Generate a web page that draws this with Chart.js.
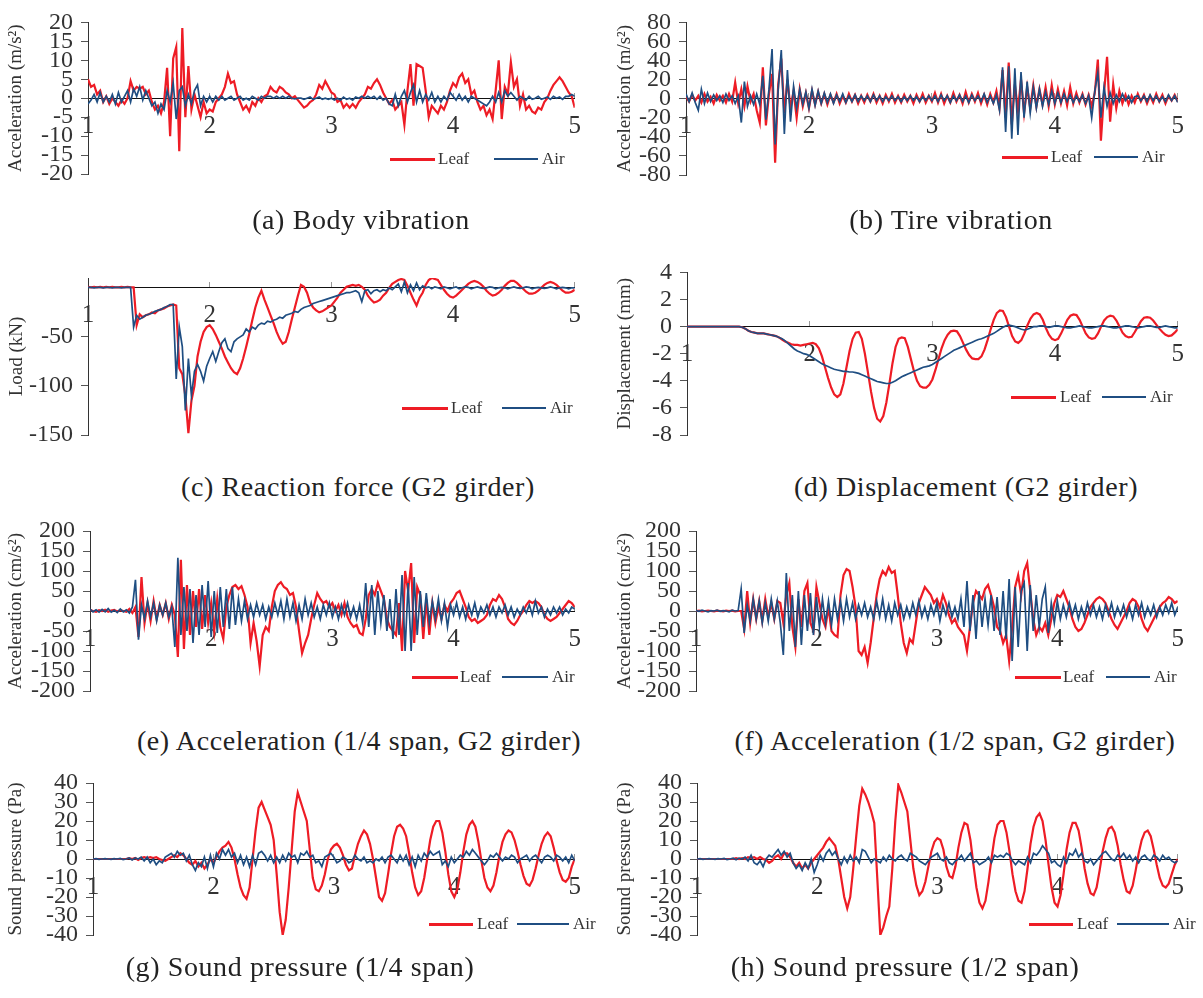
<!DOCTYPE html>
<html>
<head>
<meta charset="utf-8">
<script src="https://cdn.jsdelivr.net/npm/chart.js@4.4.1/dist/chart.umd.min.js"></script>
<style>
html,body{margin:0;padding:0;background:#fff;}
body{width:1203px;height:998px;position:relative;overflow:hidden;font-family:"Liberation Serif","Times New Roman",serif;}
.cap{position:absolute;font-size:28px;letter-spacing:0.6px;color:#222;white-space:nowrap;transform:translateX(-50%);line-height:30px;}
.legt{position:absolute;font-size:17px;color:#333;white-space:nowrap;line-height:18px;}
.legl{position:absolute;height:3px;}
</style>
</head>
<body>
<script>
// ---- sampling of the records (time axis, s) ----
const T_START = 1;
const T_STEP = 0.025;
const X_TICKS = [1, 2, 3, 4, 5];

// (a) Body vibration (m/s2)
const bodyLeaf = [
5,3,3.5,1,2,-1,0.5,-1.5,0,-1,-2,-0.5,-1.5,0,4.5,2,3,2.5,3,1,
2,-1,-3,-2,-4,-1,8,-10,10.5,13.5,-14,18.5,-5,8.5,-3,1,-2,-5,-1,-4,
-3,-3.5,-1,0,1,3,6.5,4,4.5,1,-1,-3,-2,-3.5,-1,-2,0,-1,0.5,1,
3,2,1.5,3,2.5,1.5,1,0,0.5,-0.5,-1.5,-2.5,-2,-1,-0.5,1,3.5,2.5,4.5,3,
1.5,1,-1,-0.5,-2.5,-1.5,-2.5,-1.5,-2.5,-1,0,1,3,2.5,4,5,3.5,1.5,0,-1.5,
-0.5,-3,-2,-1,-7,2,9,-2,9,8.5,8,2,-5,-2,-3,-4,-2,-3,-1,2,
4,3,5.5,6.5,4,5,1,2,-1,-3,-2,-4.5,-3,-5.5,2,10,-5.5,3,1,9.5,
3,5,-2,1,-3,-2,-3.5,-4,-2.5,-3,-1,0,2,3.5,4.5,5.5,4.5,3,1.5,0.5,
-2.5];
const bodyAir = [
-1.5,-0.5,1,-1,1.5,-1,0.5,-1,1,-1.5,1.5,-1,0.5,2,-1,2.5,0.5,3,-0.5,2,
0,-2,-1,-4,-1.5,-3,2,-1,4,-5.5,2,3,-2,1,-1.5,2,3.5,-2,0.5,-1,
0.5,-1,0.5,-0.5,0.5,-0.5,0,0.5,-0.5,0,0.5,-0.5,0,-0.5,0.5,0,-0.5,0.5,0,0.5,
0.5,0,0.5,0,0.5,0,0.5,0,-0.2,0,0,-0.3,0,0.3,-0.3,0,0.3,-0.3,0,-0.3,
0,-0.5,0,-0.5,0.3,-0.3,0,-0.5,0.3,0,0.5,0,0.5,0,0.5,-0.3,0.5,-0.5,0,-1.5,
-2,1,-2,0.5,2,-1,1.5,3.5,-1,2,-1,1,-0.5,1.5,-1,0.5,-1,0.5,-0.5,1.5,
0.5,-0.5,1,-0.5,0.5,-1,0.5,0,-0.5,-1,-1.5,-2,-1,0.5,-1,1.5,-1,2,0.5,1.5,
0.5,-0.5,0.5,0,-0.5,0.5,-0.3,0,0.5,-0.3,0,0.3,-0.3,0.5,0,0.3,-0.3,0.5,0.5,1,
0.5];

// (b) Tire vibration (m/s2)
const tireLeaf = [
2,-3,4,-2,3,-4,5,-3,2,-5,4,-2,3,-4,5,-3,17,-5,10,-8,
13,-3,5,-12,-25,33,-28,5,26,-67,15,42,-15,20,-10,8,-20,10,-8,6,
-10,8,-6,7,-5,5,-6,4,-4,5,-5,3,-4,5,-3,4,-5,3,-4,4,
-3,5,-4,3,-5,4,-3,5,-4,3,-4,4,-3,3,-5,4,-3,5,-4,3,
-3,6,-4,5,-5,3,-4,6,-3,4,-5,7,-4,5,-3,6,-5,4,-6,5,
-4,8,-10,30,-20,38,-27,15,-12,20,-15,12,-10,14,-8,10,-6,12,-8,14,
-6,10,-5,8,-7,12,-5,6,-4,5,-6,4,-8,6,41,-44,5,44,-24,15,
-10,8,-5,4,-6,3,-4,5,-3,4,-5,3,-4,5,-3,4,-5,3,-2,4,
-3];
const tireAir = [
5,-3,6,-4,-12,10,-5,6,-3,4,-2,3,-4,5,-2,3,-5,3,-25,18,
-8,3,-6,5,-6,24,-22,10,52,-48,10,51,-37,30,-24,13,-10,10,-6,7,
-10,10,-7,8,-5,6,-4,5,-5,4,-3,5,-4,3,-3,4,-3,3,-2,3,
-3,4,-2,3,-3,2,-2,3,-2,2,-3,2,-2,3,-2,2,-3,2,-2,3,
-2,3,-3,4,-2,3,-4,3,-2,4,-3,3,-4,4,-2,3,-3,5,-4,3,
-5,4,-12,33,-35,34,-42,32,-38,28,-20,18,-15,12,-10,10,-8,7,-6,8,
-5,6,-4,5,-3,4,-4,3,-3,4,-5,3,-20,8,27,-20,12,-8,6,-5,
4,-3,5,-2,3,-4,2,3,-2,3,-3,4,-2,3,-3,2,-3,4,-2,3,
-4];

// (c) Reaction force, G2 girder (kN)
const reactLeaf = [
1,0.5,1,0.5,1,0.5,1,0.5,1,0.5,0.5,1,0.5,1,0.5,0.5,-38,-27,-30,-28,
-27,-25,-26,-23,-22,-21,-19,-18,-17,-18,-82,-88,-110,-148,-115,-100,-70,-55,-45,-40,
-38,-42,-48,-55,-62,-70,-76,-82,-86,-88,-82,-72,-60,-47,-33,-20,-10,-3,-12,-20,
-28,-36,-45,-52,-57,-55,-45,-32,-20,-8,3,1,-5,-15,-20,-23,-25,-24,-22,-20,
-18,-14,-10,-5,-2,1,2,3,2,3,1,-2,-8,-12,-15,-14,-12,-8,-5,0,
4,6,8,9,8,2,-5,-12,-18,-10,-5,3,8,10,9,8,3,-2,-6,-9,
-10,-8,-5,-2,1,4,6,7,6,4,1,-3,-6,-8,-7,-5,-2,2,5,7,
7,5,2,-1,-4,-6,-6,-5,-3,0,3,5,6,5,3,0,-3,-5,-5,-4,
-2];
const reactAir = [
0.5,0.5,0,0.5,0.5,0,0.5,0.5,0,0.5,0.5,0,0.5,0.5,0.5,-40,-28,-32,-30,-28,
-27,-26,-24,-23,-22,-20,-19,-17,-17,-93,-40,-60,-125,-72,-110,-85,-78,-85,-95,-80,
-72,-65,-75,-65,-56,-52,-62,-65,-55,-52,-50,-48,-42,-45,-40,-42,-38,-36,-37,-34,
-35,-33,-32,-30,-31,-28,-27,-26,-24,-25,-22,-20,-19,-18,-16,-15,-14,-13,-12,-11,
-10,-9,-8,-7,-6,-5,-5,-4,-3,-5,-14,-3,-2,-6,-3,-2,-4,-2,-3,0,
-2,1,4,-4,6,-5,3,-3,5,-2,2,0,1,-1,1,0,-1,1,0,-1,
0,1,-1,0,1,0.5,-1,0,1,0,-0.5,0,1,0.5,-1,0,0.5,0,-1,0,
1,0,-0.5,0,1,0.5,-1,0,0.5,0,-0.5,0,1,0,-1,0,0.5,0,-1,0,
0];

// (d) Displacement, G2 girder (mm)
const dispLeaf = [
0,0,0,0,0,0,0,0,0,0,0,0,0,0,0,0,0,0,-0.05,-0.15,
-0.3,-0.4,-0.45,-0.5,-0.5,-0.5,-0.55,-0.6,-0.65,-0.7,-0.8,-0.95,-1.1,-1.2,-1.3,-1.35,-1.35,-1.4,-1.35,-1.3,
-1.25,-1.2,-1.3,-1.6,-2.2,-3,-3.8,-4.5,-5,-5.2,-5,-4.2,-3,-1.8,-0.9,-0.45,-0.4,-0.9,-2,-3.4,
-4.8,-6,-6.8,-7,-6.6,-5.6,-4.2,-2.7,-1.5,-0.9,-0.8,-0.85,-1.5,-2.4,-3.3,-4,-4.4,-4.5,-4.5,-4.3,
-3.9,-3.2,-2.4,-1.6,-1,-0.6,-0.35,-0.3,-0.35,-0.7,-1.2,-1.7,-2.1,-2.35,-2.4,-2.4,-2.2,-1.7,-1,-0.2,
0.5,1,1.2,1.15,0.7,0,-0.7,-1.1,-1.2,-1,-0.5,0.1,0.6,0.9,1,0.9,0.5,-0.1,-0.6,-0.9,
-1,-0.9,-0.5,0,0.5,0.8,0.9,0.85,0.5,0,-0.5,-0.8,-0.9,-0.85,-0.5,0,0.45,0.7,0.8,0.75,
0.45,0,-0.45,-0.7,-0.8,-0.75,-0.4,0,0.4,0.65,0.7,0.65,0.45,0.15,-0.15,-0.4,-0.6,-0.7,-0.65,-0.45,
-0.2];
const dispAir = [
0,0,0,0,0,0,0,0,0,0,0,0,0,0,0,0,0,0,-0.05,-0.15,
-0.3,-0.4,-0.45,-0.5,-0.5,-0.5,-0.55,-0.6,-0.65,-0.7,-0.8,-0.9,-1.05,-1.25,-1.45,-1.65,-1.8,-1.9,-2,-2.05,
-2.15,-2.3,-2.45,-2.6,-2.75,-2.85,-2.95,-3.05,-3.15,-3.2,-3.25,-3.3,-3.3,-3.35,-3.35,-3.4,-3.45,-3.55,-3.65,-3.75,
-3.85,-3.95,-4.05,-4.1,-4.15,-4.2,-4.2,-4.1,-4,-3.85,-3.7,-3.6,-3.5,-3.4,-3.3,-3.2,-3.1,-3,-2.95,-2.9,
-2.8,-2.65,-2.5,-2.35,-2.2,-2.05,-1.9,-1.75,-1.65,-1.55,-1.45,-1.35,-1.25,-1.15,-1.05,-0.95,-0.9,-0.8,-0.7,-0.6,
-0.5,-0.35,-0.2,-0.05,0.05,0.1,0.05,0,-0.1,-0.2,-0.25,-0.2,-0.1,0,0,0.05,0.05,0,-0.05,0,
0.05,0.05,0,-0.05,-0.1,-0.1,-0.05,0,0.05,0,-0.05,-0.1,-0.1,-0.05,0,0.05,0.05,0,-0.05,-0.1,
-0.1,-0.05,0,0.05,0.05,0,-0.05,-0.1,-0.05,0,0.05,0.05,0,-0.05,-0.05,0,0.05,0,-0.05,-0.1,
-0.1];

// (e) Acceleration, 1/4 span, G2 girder (cm/s2)
const accQLeaf = [
3,0,-2,2,0,3,-2,1,3,-1,2,0,-2,5,-5,10,-65,85,-30,20,
-25,25,-20,15,-10,20,-20,15,-10,-115,128,-95,65,-60,50,-40,55,-45,40,-30,
20,-50,30,-40,-70,10,40,60,65,55,62,40,10,-80,-30,-75,-138,-60,-40,-50,
10,50,65,72,60,55,40,45,10,-50,-105,-80,-60,-20,15,45,30,20,25,10,
20,0,15,-10,20,-15,-30,-40,-35,-55,-60,-20,40,55,40,70,50,30,-20,-40,
-50,-60,20,-100,100,50,120,-80,60,40,-70,30,-60,20,-30,10,-20,15,0,20,
30,45,50,30,10,-15,-25,-20,-30,-25,-20,-10,15,30,25,40,30,10,-20,-30,
-35,-25,-10,0,15,25,20,25,20,10,-10,-20,-25,-20,-15,-5,5,15,25,20,
10];
const accQAir = [
5,-2,3,-3,4,-2,6,-3,2,-4,5,-2,3,-5,10,78,-72,15,-20,25,
-15,20,-25,15,-10,20,-15,10,-90,133,-60,60,-50,55,-80,40,-60,65,-40,75,
-65,50,-55,60,-40,55,-45,60,-35,30,-25,25,-20,15,-15,20,-10,15,-20,10,
-15,20,-10,25,-20,30,-15,20,-25,15,-20,30,-10,20,-15,10,-20,15,-10,20,
-15,10,-20,15,-10,20,-15,10,-20,15,-30,70,-40,65,-60,50,-30,40,-50,30,
-70,55,-60,90,-100,70,-100,85,-60,50,-40,45,-30,25,-20,30,-25,20,-40,15,
-10,20,-15,10,-20,15,-10,20,-15,10,-5,15,-10,10,-15,10,-5,15,-10,10,
-15,5,-10,10,-5,15,-10,25,-5,10,-15,5,-10,10,-5,10,-10,5,-5,10,
5];

// (f) Acceleration, 1/2 span, G2 girder (cm/s2)
const accHLeaf = [
0,1,-1,0,1,0,-1,1,0,-1,1,0,1,-1,0,0,-45,50,-30,30,
-20,25,-25,30,-15,20,-20,25,20,-30,40,70,-40,-90,30,-40,50,70,-30,-50,
60,20,-20,-40,10,-50,-60,-65,40,90,105,100,60,10,-100,-110,-90,-130,-80,-20,
40,80,100,90,110,95,100,40,-30,-80,-105,-70,-80,-30,20,40,60,50,40,20,
30,10,40,20,-10,-30,-20,-40,-50,-60,-100,-40,20,50,40,30,55,65,40,10,
-40,-50,-80,-60,-125,-40,60,90,40,100,120,50,-20,-60,-40,-50,-30,-60,-20,20,
40,35,50,30,10,-20,-40,-50,-45,-30,-10,10,20,30,35,30,20,0,-20,-35,
-45,-30,-15,0,20,30,25,10,-20,-40,-50,-35,-20,-5,10,20,25,35,30,20,
25];
const accHAir = [
1,-1,2,0,-2,1,0,2,-1,1,0,-2,2,0,1,55,-55,15,-25,30,
-20,25,-30,20,-25,30,-20,25,-30,-110,95,-50,40,-90,50,-85,40,-50,45,-60,
35,-40,30,-30,25,-35,30,-20,25,-25,30,-15,20,-20,15,-10,20,-15,10,-20,
25,-15,30,-20,15,-25,20,-10,15,-20,10,-15,20,-10,25,-15,10,-20,15,-10,
20,-25,15,-10,20,-15,10,-20,30,-40,75,-50,40,-70,50,-40,30,-35,40,-50,
35,-60,50,-70,80,-125,60,-90,50,70,-100,65,-50,40,-40,30,60,-55,20,-30,
25,-20,15,-15,20,-10,15,-20,10,-15,20,-10,15,-15,10,-20,15,-10,20,-15,
10,-10,15,-15,10,-20,15,-10,20,-15,10,-10,15,-15,10,-10,15,-5,20,-10,
10];

// (g) Sound pressure, 1/4 span (Pa)
const sndQLeaf = [
0,0,0,0,0,0,0,0,0,0,0,0,0.5,0,0.5,-0.5,0.5,1,0.5,1,
0.5,1,0,-0.5,-1,0,1,2,1,3,2,0,-2,-3,-1,-4,-2,-5,-3,0,
-2,1,4,6,7,9,6,0,-8,-15,-19,-21,-15,0,15,27,30,26,22,18,
10,-8,-28,-40,-32,-15,5,25,35,30,25,20,5,-10,-16,-17,-14,-8,0,5,
7,8,6,2,-3,-6,-5,2,8,12,15,13,8,0,-10,-20,-22,-18,-8,3,
12,17,18,16,12,3,-7,-15,-19,-17,-10,0,10,17,20,20,14,4,-8,-17,
-20,-16,-7,4,13,18,20,17,9,-1,-10,-15,-17,-14,-7,2,9,13,15,14,
10,4,-3,-9,-13,-14,-11,-5,2,8,12,14,12,6,-1,-7,-11,-12,-10,-4,
0];
const sndQAir = [
0,0.2,-0.2,0,0.2,0,-0.2,0.2,0,0.3,-0.3,0,0.5,-0.5,0.5,0,1,-1,1,-2,
0,-3,-1,-2,1,2,3,1,4,2,3,-1,2,-3,-6,-2,-4,1,-5,2,
-4,3,0,5,2,5,1,3,-2,2,-3,1,-4,2,-3,3,4,2,-1,2,
-2,1,-2,2,-1,3,1,2,-2,3,2,4,1,2,-2,-1,-4,1,2,3,
1,-2,-1,1,0,-2,-1,2,0,-1,1,-2,-1,-2,0,-1,1,-2,1,2,
0,-2,2,-1,2,-3,1,-4,2,-1,3,1,4,2,3,4,-3,-1,-4,1,
-2,0,2,1,4,2,5,3,1,-1,-3,-1,2,1,3,1,-1,1,0,2,
1,-2,0,1,2,-1,1,2,0,-2,1,2,1,-1,2,1,-1,1,-2,2,
-1];

// (h) Sound pressure, 1/2 span (Pa)
const sndHLeaf = [
0,0,0,0,0,0,0,0,0,0,0,0,0,0.5,0,0.5,0,1,0.5,1,
0,1,0,-0.5,-2,-1,1,2,0,3,3,1,-2,-4,-2,-5,-3,-5,-2,0,
2,4,6,9,11,9,7,0,-10,-20,-26,-20,-5,12,28,37,34,30,25,19,
-10,-40,-36,-30,-25,-5,20,39,35,30,25,10,-5,-14,-19,-17,-12,-4,4,9,
11,10,5,-4,-9,-10,-4,6,14,19,18,10,-3,-15,-23,-26,-22,-12,0,11,
18,20,20,14,4,-8,-17,-22,-23,-17,-5,8,17,22,24,20,10,-3,-15,-23,
-25,-19,-8,5,14,19,19,15,6,-5,-13,-18,-19,-15,-6,4,11,16,17,14,
7,-3,-11,-17,-18,-14,-6,3,10,14,15,12,5,-3,-10,-14,-15,-13,-8,-3,
0];
const sndHAir = [
0,0.2,-0.2,0,0.2,0,-0.2,0.2,0,0.3,-0.3,0,0.4,-0.4,0.5,0,1,-1,2,-2,
-3,-1,-4,0,2,1,3,5,2,4,1,3,-2,-5,-3,-6,-2,-5,0,-7,
-3,2,-1,3,5,2,4,0,-3,1,-2,2,-1,1,-2,5,4,1,-2,0,
-1,-2,1,-1,2,0,-1,1,2,0,-1,3,2,1,-1,-2,-3,-1,1,2,
3,0,-1,1,-2,-3,-1,0,2,-1,1,3,-2,-1,-3,-2,-1,1,-2,2,
1,2,1,3,2,-1,-3,-1,-2,-3,1,-2,3,2,4,7,5,3,-2,-1,
-3,-4,1,-2,3,2,5,1,3,-1,-2,0,-3,-1,1,3,4,2,0,-1,
2,1,3,0,2,-1,1,-2,1,2,0,-1,2,1,-1,2,0,1,-1,-2,
-1];

const SERIES_NAMES = ['Leaf', 'Air'];
const RED = '#ee1c25';
const BLUE = '#1f4e82';

// ---- layout of the eight panels (page pixels) ----
const PANELS = [
 {box:[0,0,600,205], area:[88,579,22,174], y:[-20,20,5], title:'Acceleration (m/s²)', titleX:16, leaf:bodyLeaf, air:bodyAir,
  leg:[159,390,435,438,494,538,542], cap:['(a) Body vibration',361,220]},
 {box:[605,0,598,205], area:[686,1178,15,175], y:[-80,80,20], title:'Acceleration (m/s²)', titleX:625, leaf:tireLeaf, air:tireAir,
  leg:[157,1002,1048,1051,1094,1138,1142], cap:['(b) Tire vibration',951,220]},
 {box:[0,250,600,210], area:[88,580,278,435], y:[-150,10,50], title:'Load (kN)', titleX:17, leaf:reactLeaf, air:reactAir,
  leg:[408,402,448,451,502,546,550], cap:['(c) Reaction force (G2 girder)',358,487]},
 {box:[605,250,598,210], area:[687,1180,269,435], y:[-8,4,2], title:'Displacement (mm)', titleX:625, leaf:dispLeaf, air:dispAir,
  leg:[397,1011,1056,1060,1102,1146,1150], cap:['(d) Displacement (G2 girder)',966,487]},
 {box:[0,505,600,210], area:[90,580,531,691], y:[-200,200,50], title:'Acceleration (cm/s²)', titleX:16, leaf:accQLeaf, air:accQAir,
  leg:[677,412,458,460,502,548,552], cap:['(e) Acceleration (1/4 span, G2 girder)',359,741]},
 {box:[605,505,598,210], area:[696,1194,531,691], y:[-200,200,50], title:'Acceleration (cm/s²)', titleX:625, leaf:accHLeaf, air:accHAir,
  leg:[677,1015,1061,1063,1106,1150,1154], cap:['(f) Acceleration (1/2 span, G2 girder)',955,741]},
 {box:[0,760,600,200], area:[93,590,783,935], y:[-40,40,10], title:'Sound pressure (Pa)', titleX:16, leaf:sndQLeaf, air:sndQAir,
  leg:[924,429,473,477,517,569,573], cap:['(g) Sound pressure (1/4 span)',300,967]},
 {box:[605,760,598,200], area:[697,1195,783,935], y:[-40,40,10], title:'Sound pressure (Pa)', titleX:625, leaf:sndHLeaf, air:sndHAir,
  leg:[924,1029,1073,1077,1117,1169,1173], cap:['(h) Sound pressure (1/2 span)',905,967]},
];

Chart.defaults.font.family = '"Liberation Serif","Times New Roman",serif';

function toPoints(arr) {
  return arr.map((v, i) => ({x: +(T_START + i * T_STEP).toFixed(4), y: v}));
}

function addEl(cls, css, text) {
  const d = document.createElement('div');
  d.className = cls;
  d.style.cssText = css;
  if (text) d.textContent = text;
  document.body.appendChild(d);
  return d;
}

PANELS.forEach(p => {
  const [bx, by, bw, bh] = p.box;
  const [L, R, T, B] = p.area;
  const cv = document.createElement('canvas');
  cv.width = bw; cv.height = bh;
  cv.style.cssText = `position:absolute;left:${bx}px;top:${by}px;width:${bw}px;height:${bh}px;`;
  document.body.appendChild(cv);

  new Chart(cv.getContext('2d'), {
    type: 'line',
    data: {
      datasets: [
        {label: SERIES_NAMES[0], data: toPoints(p.leaf), borderColor: RED, backgroundColor: RED, borderWidth: 2.2, pointRadius: 0, tension: 0, order: 1},
        {label: SERIES_NAMES[1], data: toPoints(p.air), borderColor: BLUE, backgroundColor: BLUE, borderWidth: 1.7, pointRadius: 0, tension: 0, order: 0}
      ]
    },
    options: {
      responsive: false,
      animation: false,
      devicePixelRatio: 1,
      events: [],
      layout: {padding: {left: 0, right: bx + bw - R, top: T - by, bottom: by + bh - B}},
      plugins: {legend: {display: false}, tooltip: {enabled: false}},
      scales: {
        x: {
          type: 'linear', min: X_TICKS[0], max: X_TICKS[X_TICKS.length - 1],
          position: {y: 0},
          afterBuildTicks: s => { s.ticks = X_TICKS.map(v => ({value: v})); },
          ticks: {stepSize: 1, font: {size: 25}, color: '#333', padding: 19, maxRotation: 0, autoSkip: false},
          grid: {display: true, drawOnChartArea: false, drawTicks: true, tickLength: -6, color: '#999'},
          border: {display: true, color: '#111', width: 1}
        },
        y: {
          type: 'linear', min: p.y[0], max: p.y[1],
          ticks: {stepSize: p.y[2], font: {size: 24}, color: '#333', padding: 8, autoSkip: false},
          grid: {display: true, drawOnChartArea: false, drawTicks: true, tickLength: 7, color: '#555'},
          border: {display: true, color: '#333', width: 1},
          title: {display: true, text: p.title, font: {size: 19}, color: '#333', padding: {top: p.titleX - bx - 11.4, bottom: 0}},
          afterFit: s => { s.width = L - bx; },
          afterBuildTicks: s => { s.ticks = s.ticks.filter(t => t.value <= p.y[1] && Math.abs(t.value % p.y[2]) < 1e-9); }
        }
      }
    }
  });

  // legend (HTML, bottom right of each panel)
  const [ly, r1, r2, lt, b1, b2, at] = p.leg;
  addEl('legl', `left:${r1}px;top:${ly - 1.5}px;width:${r2 - r1}px;background:${RED};`);
  addEl('legt', `left:${lt}px;top:${ly - 9}px;`, SERIES_NAMES[0]);
  addEl('legl', `left:${b1}px;top:${ly - 1}px;width:${b2 - b1}px;height:2px;background:${BLUE};`);
  addEl('legt', `left:${at}px;top:${ly - 9}px;`, SERIES_NAMES[1]);

  // caption
  addEl('cap', `left:${p.cap[1]}px;top:${p.cap[2] - 15}px;`, p.cap[0]);
});
</script>
</body>
</html>
